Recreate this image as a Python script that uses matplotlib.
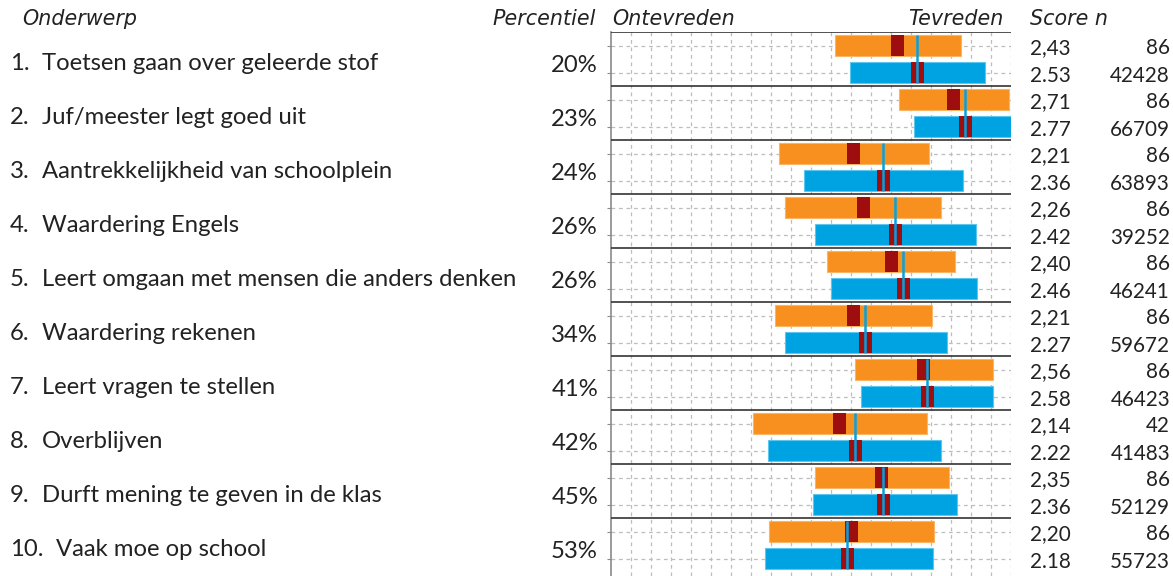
import matplotlib
matplotlib.use("Agg")
import matplotlib.pyplot as plt
import numpy as np
from matplotlib.transforms import blended_transform_factory

# ---------------- data ----------------
numbers = ["1.", "2.", "3.", "4.", "5.", "6.", "7.", "8.", "9.", "10."]
subjects = ["Toetsen gaan over geleerde stof", "Juf/meester legt goed uit",
            "Aantrekkelijkheid van schoolplein", "Waardering Engels",
            "Leert omgaan met mensen die anders denken", "Waardering rekenen",
            "Leert vragen te stellen", "Overblijven",
            "Durft mening te geven in de klas", "Vaak moe op school"]
percentiles = ["20%", "23%", "24%", "26%", "26%", "34%", "41%", "42%", "45%", "53%"]
school_score = [2.43, 2.71, 2.21, 2.26, 2.40, 2.21, 2.56, 2.14, 2.35, 2.20]
nat_score = [2.53, 2.77, 2.36, 2.42, 2.46, 2.27, 2.58, 2.22, 2.36, 2.18]
school_label = ["2,43", "2,71", "2,21", "2,26", "2,40", "2,21", "2,56", "2,14", "2,35", "2,20"]
nat_label = ["2.53", "2.77", "2.36", "2.42", "2.46", "2.27", "2.58", "2.22", "2.36", "2.18"]
school_n = [86, 86, 86, 86, 86, 86, 86, 42, 86, 86]
nat_n = [42428, 66709, 63893, 39252, 46241, 59672, 46423, 41483, 52129, 55723]
school_low = [2.12, 2.44, 1.84, 1.87, 2.08, 1.82, 2.22, 1.71, 2.02, 1.79]
school_high = [2.75, 2.99, 2.59, 2.65, 2.72, 2.605, 2.91, 2.58, 2.69, 2.615]
nat_low = [2.195, 2.515, 1.965, 2.02, 2.10, 1.87, 2.25, 1.785, 2.01, 1.77]
nat_high = [2.87, 3.05, 2.76, 2.825, 2.83, 2.68, 2.91, 2.65, 2.73, 2.61]

# ---------------- style ----------------
ORANGE = "#F7901E"
ORANGE_EDGE = "#FBB565"
BLUE = "#00A3E2"
BLUE_EDGE = "#5CC6EE"
DARKRED = "#9E0E0E"
TXT = "#222222"
BODY_FONT = ["Lato", "DejaVu Sans"]
HEAD_FONT = ["DejaVu Sans"]

W, H = 1173, 576
fig = plt.figure(figsize=(W / 100, H / 100), dpi=100)
ax_l, ax_r, ax_t, ax_b = 611, 1011, 32, 590
group_px = 54.0
ax = fig.add_axes([ax_l / W, 1 - ax_b / H, (ax_r - ax_l) / W, (ax_b - ax_t) / H])
ax.set_xlim(1, 3)
ax.set_ylim((ax_b - ax_t) / group_px, 0)

n = len(subjects)
idx = np.arange(n)
y_or = idx + 0.25
y_bl = idx + 0.75
bh = 0.38
ci = 0.065

# grid
ymax = (ax_b - ax_t) / group_px
ax.vlines(np.arange(1.1, 3.01, 0.1), 0, ymax, colors="#BDBDBD", linestyles=(0, (3, 3)),
          linewidth=0.9, zorder=0)
ax.hlines(np.concatenate([y_or, y_bl]), 1, 3, colors="#BDBDBD", linestyles=(0, (3, 3)),
          linewidth=0.9, zorder=0)

# bars
ax.barh(y_or, np.array(school_high) - np.array(school_low), left=school_low, height=bh,
        color=ORANGE, edgecolor=ORANGE_EDGE, linewidth=0.8, zorder=2)
ax.barh(y_bl, np.array(nat_high) - np.array(nat_low), left=nat_low, height=bh,
        color=BLUE, edgecolor=BLUE_EDGE, linewidth=0.8, zorder=2)
ax.barh(y_or, ci, left=np.array(school_score) - ci / 2, height=bh, color=DARKRED, zorder=3)
ax.barh(y_bl, ci, left=np.array(nat_score) - ci / 2, height=bh, color=DARKRED, zorder=3)
ax.vlines(nat_score, y_or - bh / 2, y_bl + bh / 2, colors=BLUE, linewidth=1.8, zorder=4)

# separators
ax.hlines(np.arange(0, n), 1, 3, colors="#333333", linewidth=1.2, zorder=5)

for s in ["top", "right", "bottom"]:
    ax.spines[s].set_visible(False)
ax.spines["left"].set_color("#8A8A8A")
ax.spines["left"].set_linewidth(1.2)
ax.set_xticks([])
ax.set_yticks(np.concatenate([y_or, y_bl]))
ax.tick_params(axis="y", length=3, color="#8A8A8A", labelleft=False)

# ---------------- texts ----------------
rend = fig.canvas.get_renderer()


def fit(t, target):
    w = t.get_window_extent(rend).width
    return t.get_fontsize() * target / w


trans = blended_transform_factory(fig.transFigure, ax.transData)

probe = fig.text(0, 0, subjects[4], fontsize=16, family=BODY_FONT)
body_fs = fit(probe, 521 - 42)
probe.remove()
probe = fig.text(0, 0, "42428", fontsize=16, family=BODY_FONT)
num_fs = fit(probe, 60)
probe.remove()
probe = fig.text(0, 0, "Ontevreden", fontsize=14, family=HEAD_FONT, style="italic")
head_fs = fit(probe, 123)
probe.remove()

dy = 4 / group_px
for i in range(n):
    yc = i + 0.5 + dy
    tnum = fig.text(10 / W, yc, numbers[i], transform=trans, ha="left", va="center",
                    fontsize=body_fs, family=BODY_FONT, color=TXT)
    num_end = tnum.get_window_extent(rend).x1
    sx = max(42.0, num_end + 12)
    fig.text(sx / W, yc, subjects[i], transform=trans, ha="left", va="center",
             fontsize=body_fs, family=BODY_FONT, color=TXT)
    fig.text(598 / W, yc + 2 / group_px, percentiles[i], transform=trans, ha="right",
             va="center", fontsize=body_fs, family=BODY_FONT, color=TXT)
    fig.text(1030 / W, y_or[i] + 3 / group_px, school_label[i], transform=trans, ha="left",
             va="center", fontsize=num_fs, family=BODY_FONT, color=TXT)
    fig.text(1170 / W, y_or[i] + 3 / group_px, str(school_n[i]), transform=trans, ha="right",
             va="center", fontsize=num_fs, family=BODY_FONT, color=TXT)
    fig.text(1030 / W, y_bl[i] + 3 / group_px, nat_label[i], transform=trans, ha="left",
             va="center", fontsize=num_fs, family=BODY_FONT, color=TXT)
    fig.text(1170 / W, y_bl[i] + 3 / group_px, str(nat_n[i]), transform=trans, ha="right",
             va="center", fontsize=num_fs, family=BODY_FONT, color=TXT)

hy = 1 - 19 / H
kw = dict(fontsize=head_fs, family=HEAD_FONT, style="italic", color=TXT, va="center")
fig.text(22 / W, hy, "Onderwerp", ha="left", **kw)
fig.text(596 / W, hy, "Percentiel", ha="right", **kw)
fig.text(612 / W, hy, "Ontevreden", ha="left", **kw)
fig.text(1003 / W, hy, "Tevreden", ha="right", **kw)
fig.text(1030 / W, hy, "Score n", ha="left", **kw)

fig.savefig("out.png", dpi=100)
